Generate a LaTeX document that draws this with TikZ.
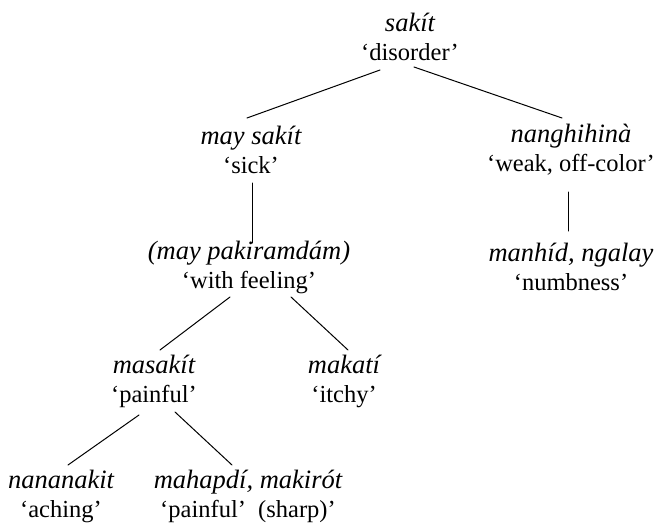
\documentclass[tikz,border=0pt]{standalone}
\usepackage{fontspec}
\setmainfont{Liberation Serif}
\newcommand{\tagword}[1]{{\fontsize{26.5}{29}\selectfont\itshape #1}}
\tikzset{
  lex/.style={align=center, inner sep=0pt, font=\fontsize{24.5}{29}\selectfont},
  branch/.style={line width=1pt, line cap=round}
}
\begin{document}
\begin{tikzpicture}[x=1pt,y=-1pt]
\useasboundingbox (0,0) rectangle (662,527);
\node[lex] (n0) at (410,37) {\tagword{sakít}\\‘disorder’};
\node[lex] (n1) at (251,150) {\tagword{may sakít}\\‘sick’};
\node[lex] (n2) at (571,150) {\tagword{nanghihinà}\\‘weak, off-color’};
\node[lex] (n3) at (249,267) {\tagword{(may pakiramdám)}\\‘with feeling’};
\node[lex] (n4) at (571,267) {\tagword{manhíd, ngalay}\\‘numbness’};
\node[lex] (n5) at (154,381) {\tagword{masakít}\\‘painful’};
\node[lex] (n6) at (344,381) {\tagword{makatí}\\‘itchy’};
\node[lex] (n7) at (61,496) {\tagword{nananakit}\\‘aching’};
\node[lex] (n8) at (248,496) {\tagword{mahapdí, makirót}\\‘painful’\ \ (sharp)’};
\draw[branch] ([shift={(-30,33)}]n0.center) -- ([shift={(-4,-32)}]n1.center);
\draw[branch] ([shift={(4,30)}]n0.center) -- ([shift={(-9,-32)}]n2.center);
\draw[branch] ([shift={(1,33)}]n1.center) -- ([shift={(3,-24)}]n3.center);
\draw[branch] ([shift={(-3,42)}]n2.center) -- ([shift={(-3,-36)}]n4.center);
\draw[branch] ([shift={(-19,30)}]n3.center) -- ([shift={(6,-31)}]n5.center);
\draw[branch] ([shift={(42,30)}]n3.center) -- ([shift={(4,-31)}]n6.center);
\draw[branch] ([shift={(-15,34)}]n5.center) -- ([shift={(7,-31)}]n7.center);
\draw[branch] ([shift={(21,31)}]n5.center) -- ([shift={(-16,-31)}]n8.center);
\end{tikzpicture}
\end{document}
